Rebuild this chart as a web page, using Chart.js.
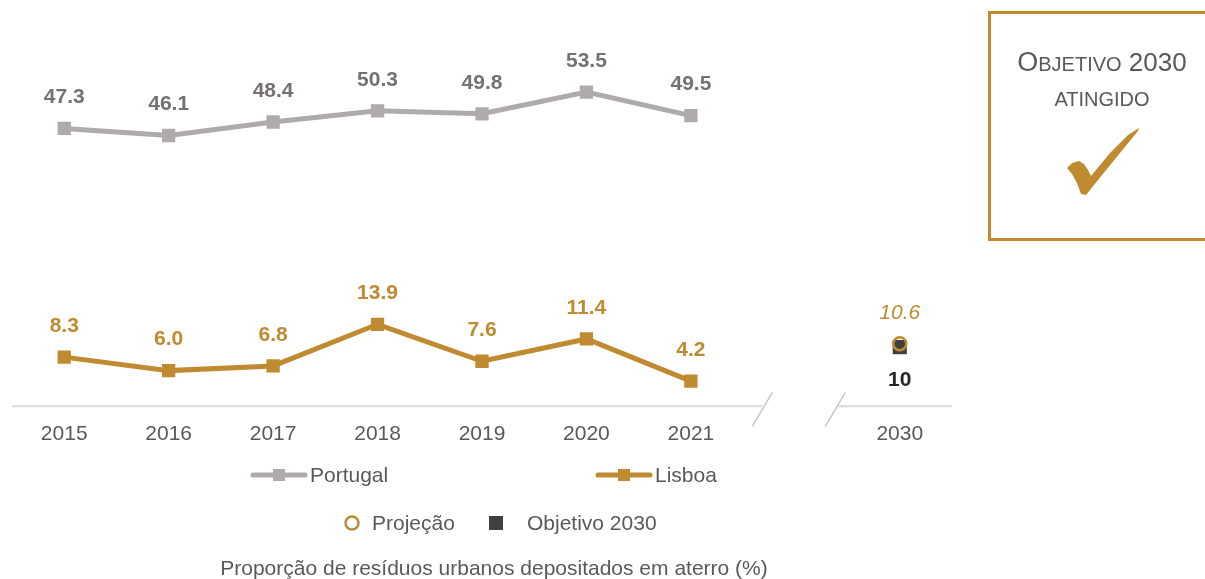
<!DOCTYPE html>
<html>
<head>
<meta charset="utf-8">
<script src="https://cdn.jsdelivr.net/npm/chart.js@4"></script>
<style>
  body { margin: 0; background: #fff; font-family: "Liberation Sans", Arial, sans-serif; }
  #wrap { position: relative; width: 1205px; height: 579px; overflow: hidden; }
  #chartBox { position: absolute; left: 0; top: 0; width: 1205px; height: 463px; }
  .leg { position: absolute; font-size: 21px; color: #595959; line-height: 24px; white-space: nowrap; }
  .goal { position: absolute; left: 988px; top: 11px; width: 240px; height: 224px;
    border: 3px solid #BF8A30; border-right: none; box-sizing: content-box; }
  .goal .t { position: absolute; left: 0; width: 222px; text-align: center; color: #595959; white-space: nowrap; }
</style>
</head>
<body>
<div id="wrap">
  <div id="chartBox"><canvas id="myChart"></canvas></div>

  <!-- legend + check mark -->
  <svg style="position:absolute;left:0;top:0" width="1205" height="579">
    <line x1="253" y1="475" x2="305" y2="475" stroke="#AFABAB" stroke-width="5" stroke-linecap="round"/>
    <rect x="273" y="469" width="12" height="12" fill="#AFABAB"/>
    <line x1="598" y1="475" x2="650" y2="475" stroke="#BF8A30" stroke-width="5" stroke-linecap="round"/>
    <rect x="618" y="469" width="12" height="12" fill="#BF8A30"/>
    <circle cx="352" cy="523" r="6.5" fill="none" stroke="#BF8A30" stroke-width="2.5"/>
    <rect x="489" y="516" width="14" height="14" fill="#404040"/>
    <polygon fill="#BF8A30" points="1067,168 1072,163 1079,161 1084,164 1088,170 1091,176 1110,153 1128,135 1139,128 1138,131 1120,153 1098,180 1086,195 1081,194 1077,183 1072,174"/>
  </svg>
  <div class="leg" style="left:310px;top:463px">Portugal</div>
  <div class="leg" style="left:655px;top:463px">Lisboa</div>
  <div class="leg" style="left:372px;top:511px">Projeção</div>
  <div class="leg" style="left:527px;top:511px">Objetivo 2030</div>
  <div class="leg" style="left:94px;width:800px;text-align:center;top:556px">Proporção de resíduos urbanos depositados em aterro (%)</div>

  <div class="goal">
    <div class="t" style="top:33px"><span style="font-size:27px">O</span><span style="font-size:20px">BJETIVO</span><span style="font-size:26px"> 2030</span></div>
    <div class="t" style="top:74px;font-size:20px">ATINGIDO</div>
  </div>
</div>

<script>
const years = ["2015", "2016", "2017", "2018", "2019", "2020", "2021", "", "2030"];
const portugal = [47.3, 46.1, 48.4, 50.3, 49.8, 53.5, 49.5, null, null];
const lisboa = [8.3, 6.0, 6.8, 13.9, 7.6, 11.4, 4.2, null, null];
const projecao = [null, null, null, null, null, null, null, null, 10.6];
const objetivo = [null, null, null, null, null, null, null, null, 10];

const gold = "#BF8A30";
const greyLine = "#AFABAB";
const font = '"Liberation Sans", Arial, sans-serif';

// value labels: [dataset index, text formatter, font, colour, offset]
const labelSpecs = [
  [0, (v) => v.toFixed(1), "bold 21px " + font, "#767171", -31],
  [1, (v) => v.toFixed(1), "bold 21px " + font, gold, -31],
  [2, (v) => v.toFixed(1), "italic 21px " + font, gold, -30],
  [3, (v) => String(v), "bold 21px " + font, "#262626", 33],
];

const labelPlugin = {
  id: "valueLabels",
  afterDatasetsDraw(chart) {
    const ctx = chart.ctx;
    ctx.save();
    ctx.textAlign = "center";
    ctx.textBaseline = "middle";
    for (const [i, fmt, f, col, off] of labelSpecs) {
      const meta = chart.getDatasetMeta(i);
      const vals = chart.data.datasets[i].data;
      meta.data.forEach((pt, j) => {
        if (vals[j] == null) return;
        ctx.font = f;
        ctx.fillStyle = col;
        ctx.fillText(fmt(vals[j]), pt.x, pt.y + off);
      });
    }
    ctx.restore();
  },
};

// x axis line with a break between 2021 and 2030
const axisPlugin = {
  id: "brokenAxis",
  beforeDatasetsDraw(chart) {
    const ctx = chart.ctx;
    const a = chart.chartArea;
    const xs = chart.scales.x;
    const gapX = xs.getPixelForValue(7);
    const y = a.bottom + 0.5;
    ctx.save();
    ctx.strokeStyle = "#D9D9D9";
    ctx.lineWidth = 2;
    ctx.beginPath();
    ctx.moveTo(a.left, y);
    ctx.lineTo(gapX - 33, y);
    ctx.moveTo(gapX + 43, y);
    ctx.lineTo(a.right, y);
    ctx.stroke();
    ctx.strokeStyle = "#C8C8C8";
    ctx.lineWidth = 1.5;
    ctx.beginPath();
    for (const c of [gapX - 33, gapX + 40]) {
      ctx.moveTo(c - 10, y + 20);
      ctx.lineTo(c + 10, y - 14);
    }
    ctx.stroke();
    ctx.restore();
  },
};

const ctx = document.getElementById("myChart");

new Chart(ctx, {
  type: "line",
  data: {
    labels: years,
    datasets: [
      {
        label: "Portugal",
        data: portugal,
        borderColor: greyLine,
        backgroundColor: greyLine,
        borderWidth: 5,
        pointStyle: "rect",
        pointRadius: 9.4,
        pointBorderWidth: 0,
      },
      {
        label: "Lisboa",
        data: lisboa,
        borderColor: gold,
        backgroundColor: gold,
        borderWidth: 5,
        pointStyle: "rect",
        pointRadius: 9.4,
        pointBorderWidth: 0,
      },
      {
        label: "Projeção",
        data: projecao,
        showLine: false,
        pointStyle: "circle",
        pointRadius: 6.5,
        pointBorderWidth: 2.5,
        pointBorderColor: gold,
        pointBackgroundColor: "rgba(0,0,0,0)",
      },
      {
        label: "Objetivo 2030",
        data: objetivo,
        showLine: false,
        pointStyle: "rect",
        pointRadius: 10,
        pointBorderWidth: 0,
        pointBackgroundColor: "#404040",
      },
    ],
  },
  options: {
    responsive: true,
    maintainAspectRatio: false,
    animation: false,
    layout: { padding: { left: 12, right: 253, top: 54, bottom: 0 } },
    plugins: {
      legend: { display: false },
      tooltip: { enabled: false },
    },
    scales: {
      x: {
        offset: true,
        grid: { display: false, drawTicks: false },
        border: { display: false },
        ticks: { color: "#595959", font: { family: font, size: 21 }, padding: 16, maxRotation: 0, autoSkip: false },
      },
      y: {
        display: false,
        min: 0,
        max: 60,
      },
    },
  },
  plugins: [axisPlugin, labelPlugin],
});
</script>
</body>
</html>
